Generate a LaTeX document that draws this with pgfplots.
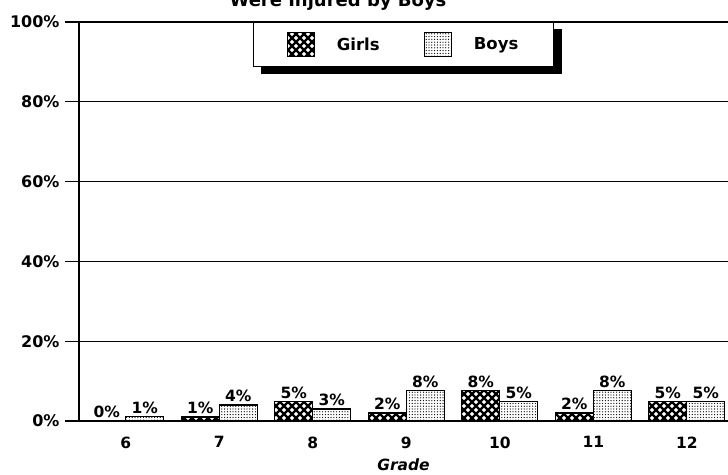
\documentclass[border=0pt]{standalone}
\usepackage{pgfplots}
\pgfplotsset{compat=1.18}
\usepackage{fontspec}
\setmainfont{DejaVu Sans}
\usetikzlibrary{patterns,backgrounds}
\pgfdeclarepatternformonly{thickcross}{\pgfpoint{-1pt}{-1pt}}{\pgfpoint{9pt}{9pt}}{\pgfpoint{8pt}{8pt}}{%
  \pgfsetlinewidth{2.3pt}%
  \pgfpathmoveto{\pgfpointorigin}\pgfpathlineto{\pgfpoint{8pt}{8pt}}%
  \pgfpathmoveto{\pgfpoint{0pt}{8pt}}\pgfpathlineto{\pgfpoint{8pt}{0pt}}%
  \pgfusepath{stroke}}
\pgfdeclarepatternformonly{finedots}{\pgfpoint{-0.5pt}{-0.5pt}}{\pgfpoint{3pt}{3pt}}{\pgfpoint{2.8pt}{2.8pt}}{%
  \pgfpathcircle{\pgfpoint{0.6pt}{0.6pt}}{0.65pt}%
  \pgfusepath{fill}}
\begin{document}
\begin{tikzpicture}
\useasboundingbox (0,0) rectangle (728pt,474pt);
\node[anchor=base, font=\fontsize{18}{18}\selectfont\bfseries] at (338pt,467pt) {Were Injured by Boys};
\begin{axis}[
  at={(79pt,53pt)}, anchor=south west,
  scale only axis, width=649pt, height=399pt,
  xmin=5.5, xmax=12.44, ymin=0, ymax=100,
  ybar=0pt, bar width=38pt,
  axis lines*=left, axis line style={-, line width=1.3pt},
  xtick={6,7,8,9,10,11,12},
  xtick style={draw=none},
  ytick={0,20,40,60,80,100},
  yticklabel={\pgfmathprintnumber{\tick}\%},
  ytick style={line width=1.3pt, black},
  tick align=outside, major tick length=14pt,
  ymajorgrids, grid style={line width=1.3pt, black},
  /pgf/number format/assume math mode=true,
  yticklabel style={font=\fontsize{16}{16}\selectfont\bfseries, xshift=-2pt},
  xticklabel style={font=\fontsize{15.5}{15.5}\selectfont\bfseries, yshift=2pt},
  xlabel={\bfseries\itshape Grade},
  xlabel style={font=\fontsize{15.5}{15.5}\selectfont, at={(axis description cs:0.5,0)}, anchor=center, yshift=-44pt},
  nodes near coords={\pgfmathprintnumber[fixed,precision=0]{\pgfplotspointmeta}\%},
  every node near coord/.append style={font=\fontsize{15.5}{15.5}\selectfont\bfseries, yshift=-1pt},
  legend columns=2,
  legend style={name=lgd, at={(0.5,1)}, anchor=north, draw=black, line width=1.2pt, fill=white,
    font=\fontsize{16.5}{16.5}\selectfont\bfseries,
    inner xsep=33pt, inner ysep=9.5pt,
    /tikz/every even column/.append style={column sep=42pt}},
  legend image code/.code={\draw[#1, line width=1.2pt] (0pt,-12pt) rectangle (27pt,12pt);},
  legend cell align=left,
]
\addplot[draw=black, line width=1.2pt, pattern=thickcross] coordinates {
  (6,0) (7,1) (8,4.8) (9,2) (10,7.6) (11,2) (12,4.8)};
\addlegendentry{\hspace{20pt}Girls}
\addplot[draw=black, line width=1.2pt, pattern=finedots] coordinates {
  (6,1.2) (7,4) (8,3) (9,7.6) (10,4.8) (11,7.6) (12,4.8)};
\addlegendentry{\hspace{20pt}Boys}
\end{axis}
\begin{pgfonlayer}{background}
\fill[black] ([shift={(8pt,-7pt)}]lgd.south east) rectangle ([shift={(8pt,-7pt)}]lgd.north west);
\end{pgfonlayer}
\end{tikzpicture}
\end{document}
